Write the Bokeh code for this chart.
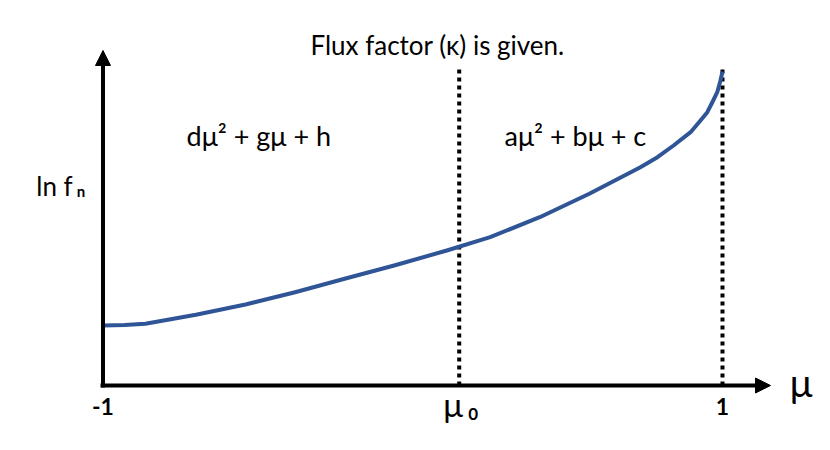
from bokeh.plotting import figure
from bokeh.models import Arrow, NormalHead, Label, Range1d
from bokeh.embed import file_html
from bokeh.resources import INLINE

# ---- data ----
mu = [-1.0, -0.93, -0.863, -0.70, -0.54, -0.38, -0.22, -0.06, 0.11, 0.25,
      0.41, 0.57, 0.735, 0.79, 0.842, 0.897, 0.929, 0.951, 0.970, 0.983,
      0.9935, 1.0]
ln_fn = [60, 60.5, 61.7, 70.7, 81, 93.3, 106.7, 120, 135, 148.3,
         168.3, 191.7, 218.3, 228.3, 240, 253.3, 265, 273.3, 285, 293.3,
         305, 314]
mu0 = 0.15
tick_pos = [-1.0, 1.0]
tick_labels = ["-1", "1"]
boundaries = [mu0, 1.0]
title_text = "Flux factor (κ) is given."
left_eq = "dμ² + gμ + h"
right_eq = "aμ² + bμ + c"

FONT = "Lato"
BLUE = "#2F5597"

p = figure(width=814, height=434, output_backend="svg", toolbar_location=None,
           x_range=Range1d(-1.3309, 1.2970), y_range=Range1d(-49, 385),
           min_border=0, outline_line_color=None)
p.axis.visible = False
p.grid.visible = False
p.background_fill_color = "white"

# dotted vertical lines
for b in boundaries:
    p.line([b, b], [0, 316], line_color="black", line_width=4, line_dash="4 4")

# curve
p.line(mu, ln_fn, line_color=BLUE, line_width=4, line_join="round")

# axes with arrows
p.add_layout(Arrow(end=NormalHead(size=15, fill_color="black", line_color="black"),
                   x_start=-1.0, y_start=-2, x_end=-1.0, y_end=335,
                   line_color="black", line_width=4))
p.add_layout(Arrow(end=NormalHead(size=15, fill_color="black", line_color="black"),
                   x_start=-1.008, y_start=0, x_end=1.155, y_end=0,
                   line_color="black", line_width=4))


def lab(x, y, text, size, bold=False, align="center"):
    p.add_layout(Label(x=x, y=y, text=text, text_font=FONT, text_font_size=size,
                       text_font_style="bold" if bold else "normal",
                       text_align=align, text_baseline="alphabetic",
                       text_color="black"))


# tick labels
for xp, t in zip(tick_pos, tick_labels):
    lab(xp, -21, t, "23px", bold=True)
lab(mu0 - 0.02, -18, "μ", "33px")
lab(mu0 + 0.045, -28, "0", "17px", bold=True)

# axis names
lab(1.254, 4, "μ", "38px")
lab(-1.1566, 200, "ln f", "26px")
lab(-1.071, 195, "n", "15px", bold=True)

# title
lab(0.08, 341, title_text, "26px")

# equations
lab(-0.497, 250, left_eq, "27px")
lab(0.525, 250, right_eq, "27px")

open("out.html", "w").write(file_html(p, INLINE))
